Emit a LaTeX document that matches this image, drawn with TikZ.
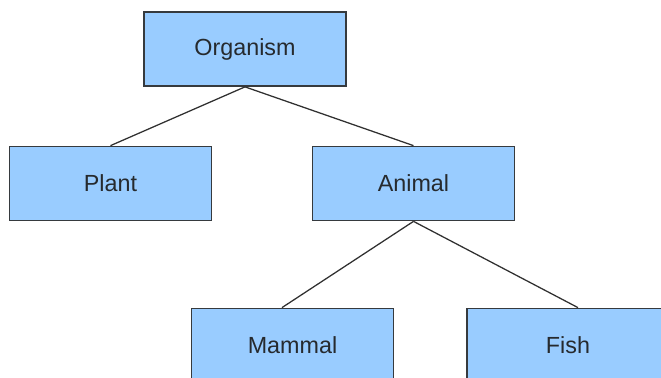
\documentclass[tikz,border=0pt]{standalone}
\usepackage{fontspec}
\setmainfont{Liberation Sans}
\definecolor{boxfill}{HTML}{99CCFF}
\definecolor{boxline}{HTML}{363A3E}
\definecolor{textcol}{HTML}{262A2E}
\definecolor{linkcol}{HTML}{303030}
\begin{document}
\begin{tikzpicture}[x=0.75pt,y=-0.75pt,
  taxon/.style={draw=boxline,fill=boxfill,line width=1.3pt,rectangle,
    minimum width=151.5pt,minimum height=55.5pt,inner sep=0pt,
    text=textcol,font=\fontsize{17.5pt}{21pt}\selectfont},
  link/.style={draw=linkcol,line width=0.95pt}]
\useasboundingbox (0,0) rectangle (661,378);
\clip (0,0) rectangle (661,378);
\node[taxon] (organism) at (245,49) {Organism};
\node[taxon] (plant) at (110.5,183.5) {Plant};
\node[taxon] (animal) at (413.5,183.5) {Animal};
\node[taxon] (mammal) at (292.5,345.5) {Mammal};
\node[taxon] (fish) at (568,345.5) {Fish};
\draw[link] (organism.south) -- (plant.north);
\draw[link] (organism.south) -- (animal.north);
\draw[link] (animal.south) -- ([xshift=-7.9pt]mammal.north);
\draw[link] (animal.south) -- ([xshift=7.5pt]fish.north);
\end{tikzpicture}
\end{document}
